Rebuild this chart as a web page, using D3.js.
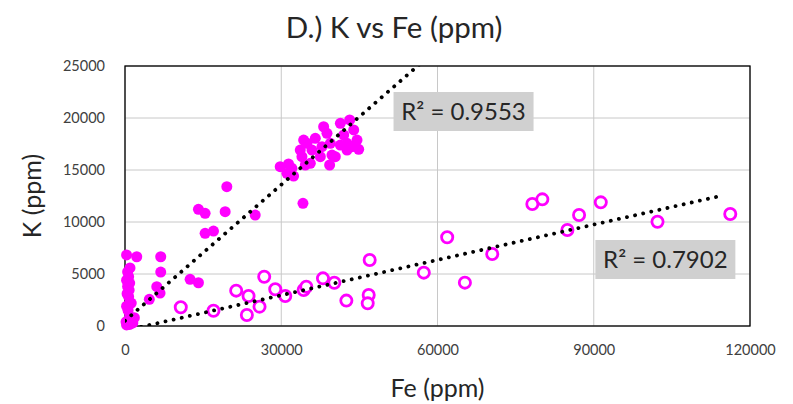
<!DOCTYPE html>
<meta charset="utf-8">
<style>
body { margin: 0; background: #fff; }
text { font-family: Lato, "Open Sans", sans-serif; }
.tick text { font-size: 14.5px; fill: #404040; }
.grid line { stroke: #c8c8c8; stroke-width: 1; }
.trend { fill: none; stroke: #000; stroke-width: 3.8; stroke-linecap: round; stroke-dasharray: 0.1 8.2; }
</style>
<svg id="chart" width="793" height="404"></svg>
<script src="https://cdn.jsdelivr.net/npm/d3@7"></script>
<script>
// data: [Fe, K] in ppm
var filledPts = [
  [300, 6830], [2250, 6660], [960, 5580], [500, 5200], [700, 4740], [300, 4400],
  [900, 4130], [500, 3800], [800, 3460], [400, 3100], [700, 2820], [1200, 2200],
  [300, 1900], [600, 1500], [900, 900], [1800, 800], [200, 400], [900, 150],
  [300, 100], [1500, 300],
  [6860, 6660], [6860, 5190], [6100, 3780], [6730, 3170], [4670, 2570],
  [12500, 4490], [14100, 4160], [14100, 11220], [15380, 10830], [19230, 10990],
  [19550, 13400], [15380, 8910], [16990, 9130], [25000, 10670], [34170, 11800],
  [29800, 15320], [31400, 15580], [32050, 15160], [31090, 14680], [32370, 14420],
  [34300, 17880], [33650, 16920], [33970, 16280], [34620, 15480], [35580, 15640],
  [36540, 18050], [37500, 16280], [38140, 19160], [38780, 18530], [39420, 17570],
  [39740, 16440], [39290, 15480], [40380, 16280], [41350, 19490], [41990, 18370],
  [42630, 17570], [43140, 19810], [43910, 18850], [44550, 17880], [42630, 16920],
  [44870, 16990], [43590, 17240], [41350, 17400], [37820, 17240], [35900, 16920],
  [34940, 17570]
];
var openPts = [
  [10710, 1800], [16990, 1470], [21350, 3400], [23720, 2880], [23400, 1060],
  [25830, 1860], [26730, 4740], [28850, 3530], [30770, 2880], [34300, 3460],
  [34810, 3780], [38010, 4580], [40190, 4160], [42500, 2440], [46790, 2980],
  [46600, 2180], [46980, 6350], [57370, 5130], [61860, 8530], [65260, 4170],
  [70510, 6920], [78210, 11730], [80130, 12180], [84940, 9230], [87180, 10670],
  [91350, 11890], [102240, 10030], [116210, 10770]
];
// linear trendlines: slope, intercept, Fe range
var filledTrend = [0.436, 505, 0, 60000];
var openTrend = [0.1132, -439, 0, 115000];
var r2Labels = ["R\u00b2 = 0.9553", "R\u00b2 = 0.7902"];
var xTicks = [0, 30000, 60000, 90000, 120000];
var yTicks = [0, 5000, 10000, 15000, 20000, 25000];

var svg = d3.select("#chart"),
    margin = {top: 66, right: 43, bottom: 78, left: 125},
    width = +svg.attr("width") - margin.left - margin.right,
    height = +svg.attr("height") - margin.top - margin.bottom,
    g = svg.append("g").attr("transform", "translate(" + margin.left + "," + margin.top + ")");

var x = d3.scaleLinear().domain([0, 120000]).range([0, width]);
var y = d3.scaleLinear().domain([0, 25000]).range([height, 0]);

svg.append("defs").append("clipPath").attr("id", "plot")
  .append("rect").attr("width", width).attr("height", height);

// gridlines
g.append("g").attr("class", "grid")
  .selectAll("line").data(yTicks).enter().append("line")
    .attr("x1", 0).attr("x2", width)
    .attr("y1", function(d) { return y(d); }).attr("y2", function(d) { return y(d); });
g.append("g").attr("class", "grid")
  .selectAll("line").data(xTicks).enter().append("line")
    .attr("y1", 0).attr("y2", height)
    .attr("x1", function(d) { return x(d); }).attr("x2", function(d) { return x(d); });

// axes (labels only, border drawn below)
var xAxis = g.append("g").attr("transform", "translate(0," + height + ")")
  .call(d3.axisBottom(x).tickValues(xTicks).tickFormat(d3.format("d")).tickSize(0).tickPadding(19));
var yAxis = g.append("g")
  .call(d3.axisLeft(y).tickValues(yTicks).tickFormat(d3.format("d")).tickSize(0).tickPadding(20));
xAxis.select(".domain").remove();
yAxis.select(".domain").remove();

g.append("rect").attr("width", width).attr("height", height)
  .attr("fill", "none").attr("stroke", "#000").attr("stroke-width", 1.3);

// markers are not clipped (they spill over the axis like in the original)
g.selectAll(".filled").data(filledPts).enter().append("circle")
  .attr("class", "filled")
  .attr("cx", function(d) { return x(d[0]); })
  .attr("cy", function(d) { return y(d[1]); })
  .attr("r", 5.5)
  .attr("fill", "#ff00ff");

g.selectAll(".open").data(openPts).enter().append("circle")
  .attr("class", "open")
  .attr("cx", function(d) { return x(d[0]); })
  .attr("cy", function(d) { return y(d[1]); })
  .attr("r", 5.6)
  .attr("fill", "#fff")
  .attr("stroke", "#ff00ff")
  .attr("stroke-width", 2.8);

var plot = g.append("g").attr("clip-path", "url(#plot)");
[filledTrend, openTrend].forEach(function(t) {
  var line = d3.line()
    .x(function(d) { return x(d); })
    .y(function(d) { return y(t[0] * d + t[1]); });
  plot.append("path").attr("class", "trend").attr("d", line([t[2], t[3]]));
});

// R² labels
var labelPos = [[65000, 20625], [103750, 6394]];
r2Labels.forEach(function(s, i) {
  var lx = x(labelPos[i][0]), ly = y(labelPos[i][1]);
  g.append("rect").attr("x", lx - 70).attr("y", ly - 19.5).attr("width", 140).attr("height", 39)
    .attr("fill", "#d0d0d0");
  g.append("text").attr("x", lx).attr("y", ly).attr("dy", "0.35em")
    .attr("text-anchor", "middle").style("font-size", "24px").style("fill", "#262626")
    .text(s);
});

svg.append("text").attr("x", 394).attr("y", 38).attr("text-anchor", "middle")
  .style("font-size", "29.5px").style("fill", "#262626").text("D.) K vs Fe (ppm)");
svg.append("text").attr("x", margin.left + width / 2).attr("y", 397).attr("text-anchor", "middle")
  .style("font-size", "25px").style("fill", "#262626").text("Fe (ppm)");
svg.append("text").attr("transform", "translate(41," + (margin.top + height / 2) + ") rotate(-90)")
  .attr("text-anchor", "middle")
  .style("font-size", "25px").style("fill", "#262626").text("K (ppm)");
</script>
